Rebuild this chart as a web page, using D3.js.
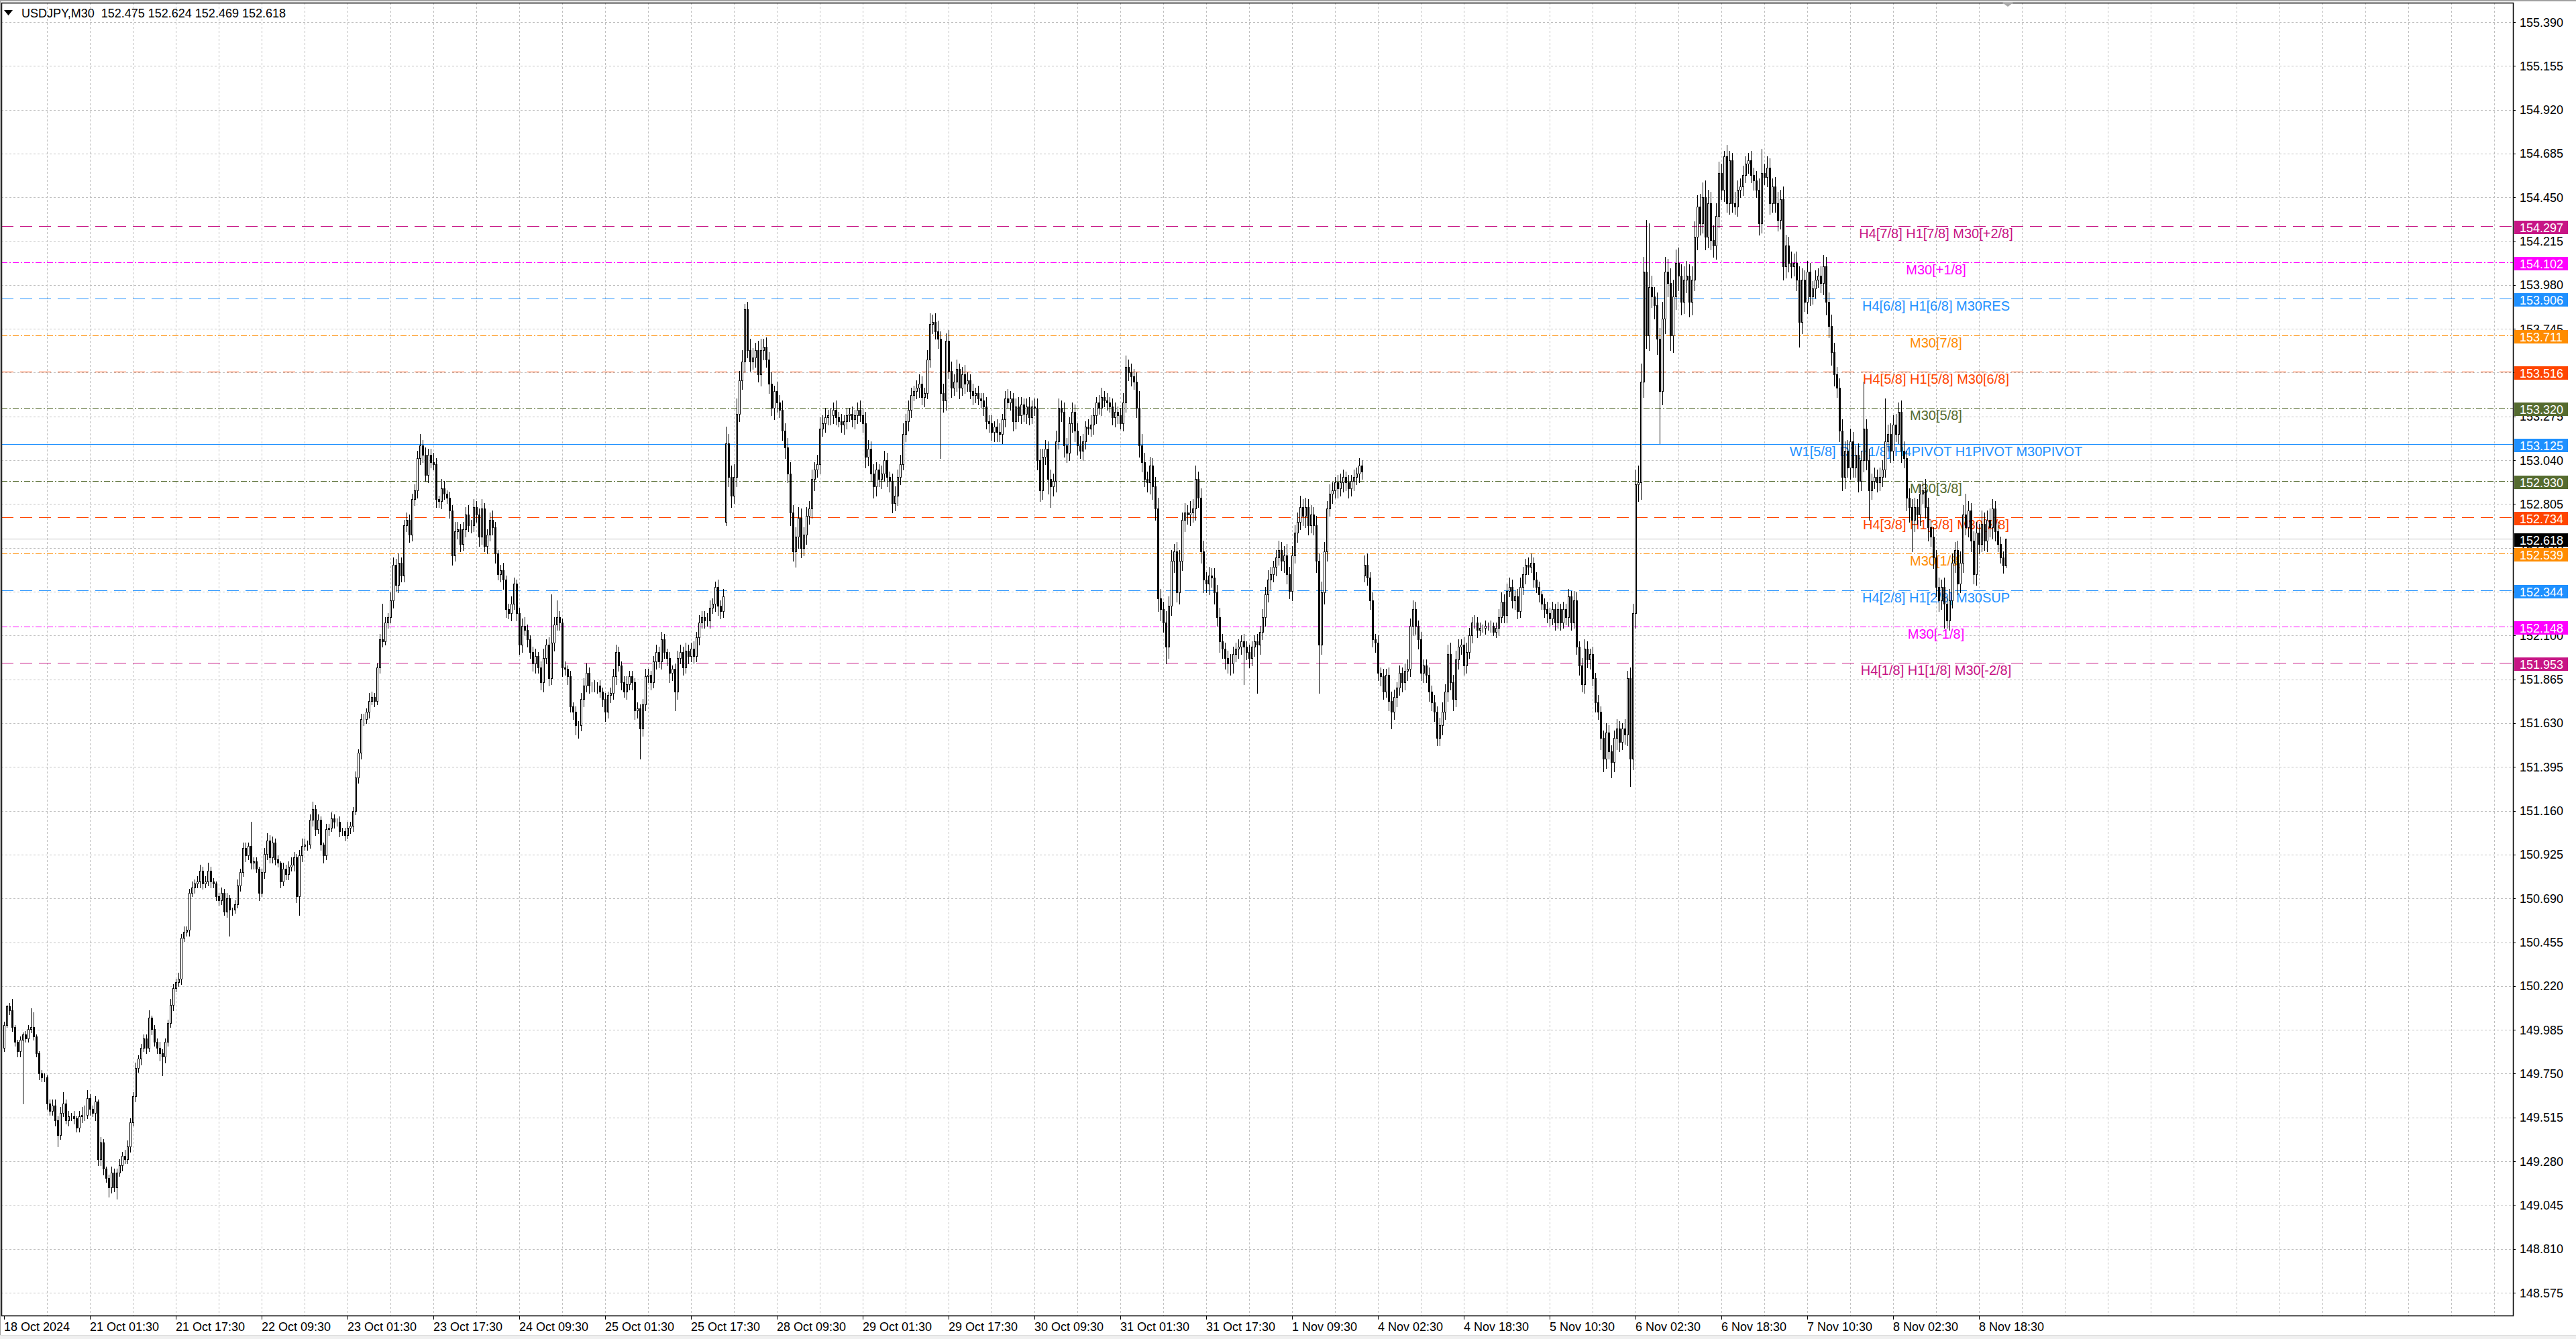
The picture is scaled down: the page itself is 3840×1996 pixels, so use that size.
<!DOCTYPE html>
<html>
<head>
<meta charset="utf-8">
<script src="https://cdn.jsdelivr.net/npm/d3@7"></script>
<style>
html, body { margin: 0; padding: 0; background: #fff; overflow: hidden; }
svg { display: block; }
text { font-family: "Liberation Sans", Arial, sans-serif; }
</style>
</head>
<body>
<script>
// chart data
const title = 'USDJPY,M30  152.475 152.624 152.469 152.618';

// M30 closes, one per bar, 18 Oct 2024 -> 8 Nov 2024
const closes = [
  150.01,150.11,150.09,150.00,149.92,149.87,149.93,149.96,149.94,149.99,
  150.00,149.95,149.86,149.75,149.73,149.73,149.59,149.55,149.58,149.50,
  149.42,149.54,149.59,149.50,149.52,149.52,149.51,149.46,149.52,149.53,
  149.53,149.62,149.56,149.54,149.60,149.29,149.38,149.24,149.19,149.14,
  149.22,149.14,149.22,149.26,149.31,149.29,149.36,149.49,149.63,149.78,
  149.83,149.89,149.94,149.89,150.05,149.99,149.92,149.89,149.86,149.84,
  149.92,150.02,150.12,150.21,150.24,150.26,150.48,150.51,150.52,150.72,
  150.75,150.77,150.78,150.84,150.77,150.78,150.84,150.78,150.77,150.70,
  150.68,150.72,150.62,150.69,150.63,150.63,150.66,150.76,150.83,150.96,
  150.92,150.97,150.88,150.89,150.85,150.72,150.83,150.93,151.00,150.91,
  150.99,150.90,150.88,150.78,150.85,150.82,150.86,150.87,150.91,150.70,
  150.92,150.97,150.98,150.98,151.11,151.17,151.06,151.11,150.98,150.92,
  151.06,151.07,151.12,151.10,151.10,151.05,151.05,151.03,151.07,151.08,
  151.16,151.34,151.47,151.65,151.65,151.69,151.75,151.77,151.75,151.93,
  152.08,152.07,152.17,152.20,152.29,152.48,152.37,152.49,152.42,152.69,
  152.72,152.64,152.83,152.88,153.05,153.12,153.07,152.96,153.07,153.03,
  153.02,152.83,152.82,152.89,152.86,152.84,152.77,152.53,152.66,152.67,
  152.59,152.67,152.75,152.69,152.69,152.79,152.75,152.63,152.78,152.58,
  152.64,152.72,152.68,152.54,152.43,152.45,152.40,152.24,152.22,152.27,
  152.38,152.22,152.05,152.15,152.13,152.08,152.01,151.95,151.99,151.93,
  151.85,151.98,152.05,151.87,152.06,152.16,152.20,152.17,151.93,151.92,
  151.88,151.72,151.69,151.62,151.62,151.76,151.83,151.90,151.83,151.83,
  151.83,151.83,151.80,151.76,151.69,151.78,151.79,151.88,152.01,151.94,
  151.85,151.80,151.84,151.88,151.85,151.70,151.71,151.60,151.73,151.88,
  151.89,151.85,151.96,152.01,151.96,152.08,152.01,151.98,151.90,151.92,
  151.80,151.98,152.01,151.93,152.02,151.99,152.03,151.99,152.09,152.17,
  152.20,152.18,152.18,152.25,152.27,152.36,152.26,152.23,152.31,153.13,
  152.95,152.85,152.95,153.29,153.47,153.57,153.85,153.63,153.57,153.59,
  153.63,153.50,153.63,153.65,153.58,153.45,153.32,153.41,153.35,153.31,
  153.20,153.11,152.97,152.76,152.55,152.63,152.73,152.57,152.64,152.74,
  152.78,152.94,152.99,153.02,153.21,153.24,153.27,153.28,153.28,153.31,
  153.27,153.25,153.23,153.25,153.28,153.29,153.26,153.28,153.31,153.28,
  153.24,153.06,153.10,152.97,152.90,152.99,152.94,152.97,153.04,152.95,
  152.93,152.81,152.85,152.95,153.02,153.18,153.25,153.31,153.39,153.41,
  153.43,153.45,153.38,153.40,153.58,153.77,153.78,153.73,153.69,153.40,
  153.36,153.68,153.52,153.43,153.46,153.53,153.43,153.50,153.45,153.47,
  153.41,153.39,153.40,153.37,153.36,153.33,153.25,153.24,153.19,153.22,
  153.19,153.18,153.26,153.37,153.35,153.37,153.25,153.33,153.28,153.34,
  153.29,153.33,153.27,153.33,153.32,153.04,152.88,153.06,153.10,152.94,
  152.90,152.93,153.14,153.32,153.30,153.12,153.08,153.24,153.30,153.20,
  153.12,153.09,153.14,153.22,153.21,153.23,153.28,153.35,153.32,153.38,
  153.36,153.35,153.33,153.27,153.30,153.28,153.24,153.35,153.54,153.51,
  153.49,153.46,153.32,153.12,153.03,152.94,152.92,153.01,152.90,152.78,
  152.30,152.24,152.17,152.04,152.26,152.50,152.55,152.33,152.50,152.72,
  152.76,152.75,152.76,152.78,152.94,152.84,152.55,152.40,152.38,152.42,
  152.41,152.33,152.20,152.07,152.03,151.98,151.95,151.95,152.00,152.03,
  152.04,152.07,152.04,152.01,151.98,152.04,152.07,152.05,152.12,152.20,
  152.32,152.40,152.43,152.47,152.52,152.56,152.50,152.53,152.43,152.34,
  152.53,152.65,152.71,152.79,152.74,152.79,152.69,152.75,152.69,152.50,
  152.05,152.33,152.55,152.78,152.86,152.88,152.92,152.89,152.92,152.95,
  152.92,152.89,152.93,152.95,152.97,153.01,152.98,152.48,152.41,152.29,
  152.08,152.06,151.90,151.88,151.80,151.89,151.75,151.69,151.77,151.82,
  151.90,151.85,151.91,151.92,152.15,152.24,152.15,152.08,151.90,151.94,
  151.89,151.80,151.74,151.69,151.55,151.62,151.69,151.80,152.00,151.85,
  151.76,151.97,152.04,152.05,151.94,152.01,152.10,152.17,152.17,152.13,
  152.14,152.14,152.15,152.15,152.15,152.12,152.14,152.20,152.28,152.21,
  152.34,152.36,152.29,152.31,152.23,152.36,152.43,152.48,152.47,152.49,
  152.40,152.36,152.32,152.27,152.24,152.22,152.19,152.24,152.17,152.24,
  152.17,152.24,152.20,152.31,152.17,152.29,152.04,151.94,151.84,152.03,
  151.97,152.00,151.87,151.74,151.69,151.55,151.44,151.58,151.48,151.42,
  151.55,151.60,151.53,151.60,151.57,151.87,151.44,152.22,152.91,152.92,
  153.46,154.05,153.71,153.97,153.92,153.87,153.69,153.41,153.80,154.05,
  153.99,153.71,153.92,154.10,154.03,153.89,154.01,154.03,153.89,154.01,
  154.24,154.40,154.31,154.45,154.24,154.42,154.22,154.19,154.35,154.58,
  154.49,154.67,154.42,154.65,154.42,154.40,154.49,154.51,154.57,154.63,
  154.65,154.57,154.54,154.49,154.31,154.58,154.56,154.61,154.42,154.51,
  154.42,154.33,154.44,154.08,154.19,154.10,154.08,154.10,154.01,153.78,
  154.01,153.89,154.05,153.92,153.96,154.01,154.03,153.99,154.08,153.89,
  153.76,153.62,153.50,153.43,153.20,152.95,153.09,153.00,153.14,153.00,
  153.07,152.93,153.04,153.21,153.04,152.88,152.93,152.95,152.92,152.95,
  152.99,153.14,153.18,153.09,153.23,153.18,153.30,153.09,153.05,152.84,
  152.79,152.72,152.79,152.75,152.86,152.88,152.79,152.68,152.63,152.52,
  152.36,152.29,152.36,152.27,152.18,152.29,152.49,152.56,152.38,152.49,
  152.75,152.68,152.77,152.61,152.43,152.65,152.59,152.70,152.61,152.72,
  152.68,152.78,152.66,152.59,152.52,152.475,152.618
];

// bars whose open is not the previous close (first bar, weekend gaps)
const openGaps = [[0, 149.89], [269, 152.71], [507, 152.42]];

// wick lengths in 0.01 yen, one base-36 digit per bar
const upWick = [
  '2126112122','a811221233','2362323134','5422313212','3223233223',
  '2222412232','2232232322','3233234221','2323212323','32d2212343',
  '3221323432','3432342321','3232232232','2323324322','3j32443533',
  '4333463433','5325423354','3445343353','3453234234','3234532342',
  '3534q49323','2323234532','3232323443','2343323234','3234343232',
  '3443433434','3344334349','5678563465','4564546354','5456456545',
  '4545645344','5343434345','4654543454','3454564543','4543564564',
  '5465453454','3434345343','4534543454','3453456454','5465454354',
  '4543454345','3434534564','5459654545','6546564564','5465745645',
  '4545434543','4343433434','4543454564','5456454545','4654543454',
  '3434343563','4343434543','4345454343','3434345456','4543454343',
  '3232323454','4543454345','3432343434','3434354345','4343434543',
  '4543546589','a8sy657698','7897867867','8678976876','5365465454',
  '45456d5654','5657656567','6565454565','5654565675','565p564545',
  '5n56565654','5454546545','4545465456','5b54565765','6545430'
].join('');
const downWick = [
  '2122233y22','2223223223','6222323223','3232433325','3262322323',
  '232323234a','3223223223','2323322322','3223e32232','3233242333',
  '3323233233','a323233234','2323232323','3233323232','3323343433',
  '3433434343','3434334534','4343434543','4345345434','3454343453',
  '4534343453','4345734343','3434534343','4343454g43','3434343454',
  'a434343434','3434345432','5645456454','5465454654','5657586545',
  '4564545454','4345434543','5654654545','6545434543','454534545z',
  '6545456454','4543454545','5454345434','4543456548','b564565456',
  '5454345434','3434543454','5456545676','7659656565','6565656756',
  '5656565654','54k4545q54','5454545654','5454565456','q565454545',
  '4545454345','4545435945','4545454545','4545445454','6454543434',
  '3232323434','4345434543','4343454343','4345434545','4545467548',
  '565456f689','9878678s78','7897876787','6765765676','5656545454',
  '5454654565','565765656d','6565454567','6765676565','56565g5454',
  '5456545657','8h65656756','565d454565','5456565456','5654341'
].join('');

// one label every 32 bars
const xTickLabels = [
  '18 Oct 2024', '21 Oct 01:30', '21 Oct 17:30', '22 Oct 09:30', '23 Oct 01:30',
  '23 Oct 17:30', '24 Oct 09:30', '25 Oct 01:30', '25 Oct 17:30', '28 Oct 09:30',
  '29 Oct 01:30', '29 Oct 17:30', '30 Oct 09:30', '31 Oct 01:30', '31 Oct 17:30',
  '1 Nov 09:30', '4 Nov 02:30', '4 Nov 18:30', '5 Nov 10:30', '6 Nov 02:30',
  '6 Nov 18:30', '7 Nov 10:30', '8 Nov 02:30', '8 Nov 18:30'
];
const yTickLabels = [
  '155.390','155.155','154.920','154.685','154.450','154.215','153.980','153.745',
  '153.510','153.275','153.040','152.805','152.570','152.335','152.100','151.865',
  '151.630','151.395','151.160','150.925','150.690','150.455','150.220','149.985',
  '149.750','149.515','149.280','149.045','148.810','148.575'
];

// Murrey math levels
const levelPrices = [154.297, 154.102, 153.906, 153.711, 153.516, 153.320, 153.125,
                     152.930, 152.734, 152.539, 152.344, 152.148, 151.953];
const levelNames = [
  'H4[7/8] H1[7/8] M30[+2/8]', 'M30[+1/8]', 'H4[6/8] H1[6/8] M30RES', 'M30[7/8]',
  'H4[5/8] H1[5/8] M30[6/8]', 'M30[5/8]', 'W1[5/8] D1[+1/8] H4PIVOT H1PIVOT M30PIVOT',
  'M30[3/8]', 'H4[3/8] H1[3/8] M30[2/8]', 'M30[1/8]', 'H4[2/8] H1[2/8] M30SUP',
  'M30[-1/8]', 'H4[1/8] H1[1/8] M30[-2/8]'
];
const lastPrice = 152.618;

// styles
const levelColors = ['#C71585', '#FF00FF', '#1E90FF', '#FF8C00', '#FF4500', '#556B2F', '#1E90FF',
                     '#556B2F', '#FF4500', '#FF8C00', '#1E90FF', '#FF00FF', '#C71585'];
const DASH = '18,10', DASHDOT = '9,3,2,3';
const levelDash = [DASH, DASHDOT, DASH, DASHDOT, DASH, DASHDOT, null,
                   DASHDOT, DASH, DASHDOT, DASH, DASHDOT, DASH];

const W = 3840, H = 1996;
const pl = 2, pr = 3746, pt = 4, pb = 1961;

const x = d3.scaleLinear().domain([0, 935]).range([6, 3746]);
const y = d3.scaleLinear().domain([148.575, 155.390]).range([1927, 33]);
const crisp = v => Math.round(v) + 0.5;

const svg = d3.select('body').append('svg')
  .attr('width', W).attr('height', H);

svg.append('rect').attr('width', W).attr('height', H).attr('fill', '#fff');
svg.append('rect').attr('x', 0).attr('y', 1990).attr('width', W).attr('height', 6).attr('fill', '#f0f0f0');
svg.append('line').attr('x1', 0).attr('x2', W).attr('y1', 1990.5).attr('y2', 1990.5).attr('stroke', '#dcdcdc');
svg.append('rect').attr('x', 0).attr('y', 0).attr('width', W).attr('height', 2).attr('fill', '#a0a0a0');
svg.append('line').attr('x1', 0.5).attr('x2', 0.5).attr('y1', 0).attr('y2', 1990).attr('stroke', '#a0a0a0');

svg.append('clipPath').attr('id', 'plot')
  .append('rect').attr('x', pl).attr('y', pt).attr('width', pr - pl).attr('height', pb - pt);

const plot = svg.append('g').attr('clip-path', 'url(#plot)');

// grid
const grid = plot.append('g').attr('stroke', '#c0c0c0').attr('stroke-dasharray', '3,3')
  .attr('shape-rendering', 'crispEdges');
grid.selectAll('line.h').data(yTickLabels).enter().append('line')
  .attr('class', 'h')
  .attr('x1', pl).attr('x2', pr)
  .attr('y1', d => crisp(y(+d))).attr('y2', d => crisp(y(+d)));
grid.selectAll('line.v').data(d3.range(16, 935, 16)).enter().append('line')
  .attr('class', 'v')
  .attr('y1', pt).attr('y2', pb)
  .attr('x1', d => x(d) + 0.5).attr('x2', d => x(d) + 0.5);

// levels
const lv = plot.append('g').attr('shape-rendering', 'crispEdges');
lv.selectAll('line').data(levelPrices).enter().append('line')
  .attr('x1', pl).attr('x2', pr)
  .attr('y1', d => crisp(y(d))).attr('y2', d => crisp(y(d)))
  .attr('stroke', (d, i) => levelColors[i])
  .attr('stroke-width', 1)
  .attr('stroke-dasharray', (d, i) => levelDash[i]);
plot.append('line')
  .attr('x1', pl).attr('x2', pr)
  .attr('y1', crisp(y(lastPrice))).attr('y2', crisp(y(lastPrice)))
  .attr('stroke', '#c0c0c0').attr('shape-rendering', 'crispEdges');

plot.append('g').selectAll('text').data(levelPrices).enter().append('text')
  .attr('x', 2886)
  .attr('y', d => y(d) + 18)
  .attr('text-anchor', 'middle')
  .attr('font-size', 20)
  .attr('fill', (d, i) => levelColors[i])
  .text((d, i) => levelNames[i]);

// candles
const gapMap = new Map(openGaps);
const bars = closes.map((c, i) => {
  const o = gapMap.has(i) ? gapMap.get(i) : closes[i - 1];
  const up = parseInt(upWick[i] || '0', 36) / 100;
  const dn = parseInt(downWick[i] || '0', 36) / 100;
  return { i, o, c, h: Math.max(o, c) + up, l: Math.min(o, c) - dn };
});

const cg = plot.append('g').attr('shape-rendering', 'crispEdges');
const candle = cg.selectAll('g').data(bars).enter().append('g');
candle.append('line')
  .attr('x1', d => x(d.i) + 0.5).attr('x2', d => x(d.i) + 0.5)
  .attr('y1', d => Math.round(y(d.h))).attr('y2', d => Math.round(y(d.l)) + 1)
  .attr('stroke', '#000');
candle.append('rect')
  .attr('x', d => x(d.i) - 0.5)
  .attr('width', 2)
  .attr('y', d => Math.round(y(Math.max(d.o, d.c))) + 0.5)
  .attr('height', d => Math.max(0, Math.round(y(Math.min(d.o, d.c))) - Math.round(y(Math.max(d.o, d.c)))))
  .attr('fill', d => d.c >= d.o ? '#fff' : '#000')
  .attr('stroke', '#000');

// frame
svg.append('rect')
  .attr('x', pl + 0.5).attr('y', pt + 0.5)
  .attr('width', pr - pl).attr('height', pb - pt)
  .attr('fill', 'none').attr('stroke', '#000').attr('stroke-width', 1.5);

// shift marker
svg.append('polygon').attr('points', '2985,4 3001,4 2993,10').attr('fill', '#a8a8a8');

// price axis; labels sitting right under a price tag are hidden by it, as in the terminal
const tagPrices = levelPrices.concat([lastPrice]);
const hidden = d => tagPrices.some(p => Math.abs(y(p) - y(+d)) < 6);
const ya = svg.append('g');
ya.selectAll('line').data(yTickLabels).enter().append('line')
  .attr('x1', pr).attr('x2', pr + 4)
  .attr('y1', d => crisp(y(+d))).attr('y2', d => crisp(y(+d)))
  .attr('stroke', '#000').attr('shape-rendering', 'crispEdges');
ya.selectAll('text').data(yTickLabels.filter(d => !hidden(d))).enter().append('text')
  .attr('x', 3756).attr('y', d => y(+d) + 6.5)
  .attr('font-size', 18).attr('fill', '#000')
  .text(d => d);

// level price tags
const tags = svg.append('g').selectAll('g')
  .data(levelPrices.map((p, i) => ({ p, col: levelColors[i] })).concat([{ p: lastPrice, col: '#000' }]))
  .enter().append('g');
tags.append('rect')
  .attr('x', 3748).attr('width', 80)
  .attr('y', d => Math.round(y(d.p)) - 8).attr('height', 20)
  .attr('fill', d => d.col);
tags.append('text')
  .attr('x', 3756).attr('y', d => Math.round(y(d.p)) + 8.5)
  .attr('font-size', 18).attr('fill', '#fff')
  .text(d => d.p.toFixed(3));

// time axis
const xa = svg.append('g');
xa.selectAll('line').data(xTickLabels).enter().append('line')
  .attr('x1', (d, i) => x(i * 32) + 0.5).attr('x2', (d, i) => x(i * 32) + 0.5)
  .attr('y1', pb).attr('y2', pb + 6)
  .attr('stroke', '#000').attr('shape-rendering', 'crispEdges');
xa.selectAll('text').data(xTickLabels).enter().append('text')
  .attr('x', (d, i) => x(i * 32))
  .attr('y', 1984)
  .attr('font-size', 18).attr('fill', '#000')
  .text(d => d);

// title
svg.append('polygon').attr('points', '6,15 19,15 12.5,23').attr('fill', '#000');
svg.append('text').attr('x', 32).attr('y', 26).attr('font-size', 18).attr('fill', '#000')
  .attr('xml:space', 'preserve').style('white-space', 'pre')
  .text(title);
</script>
</body>
</html>
